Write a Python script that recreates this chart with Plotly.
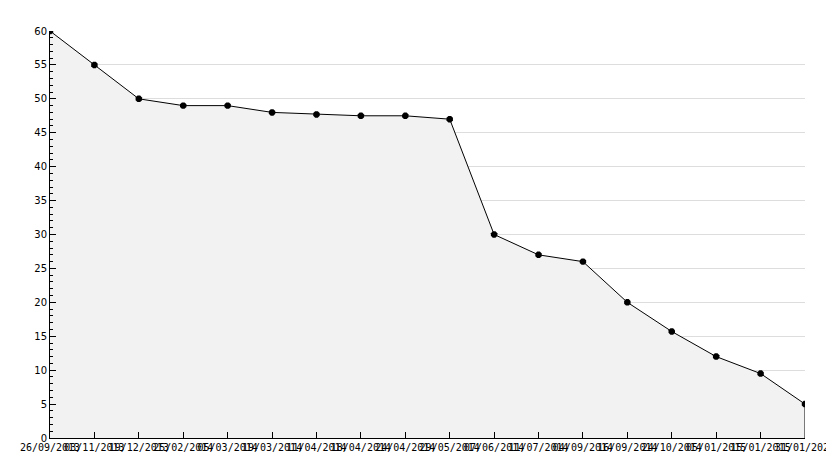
import plotly.graph_objects as go

DATES = [
    "26/09/2013", "03/11/2013", "19/12/2013", "25/02/2014", "05/03/2014",
    "19/03/2014", "11/04/2014", "18/04/2014", "24/04/2014", "29/05/2014",
    "07/06/2014", "11/07/2014", "04/09/2014", "16/09/2014", "24/10/2014",
    "05/01/2015", "15/01/2015", "31/01/2025",
]
VALUES = [60, 55, 50, 49, 49, 48, 47.7, 47.5, 47.5, 47, 30, 27, 26, 20, 15.7, 12, 9.5, 5]

FONT = dict(family="DejaVu Sans", size=10, color="#000000")

fig = go.Figure()

# Filled area with line and markers
fig.add_trace(
    go.Scatter(
        x=DATES,
        y=VALUES,
        mode="lines+markers",
        fill="tozeroy",
        fillcolor="#f2f2f2",
        line=dict(color="#000000", width=1),
        marker=dict(symbol="octagon", size=7, color="#000000"),
        showlegend=False,
    )
)

# Right edge outline of the area
fig.add_trace(
    go.Scatter(
        x=[DATES[-1], DATES[-1]],
        y=[0, VALUES[-1]],
        mode="lines",
        line=dict(color="#000000", width=1),
        showlegend=False,
        hoverinfo="skip",
    )
)

# page body has an 8px margin, so the figure is a little smaller than the window
fig.update_layout(
    width=826,
    height=460,
    margin=dict(l=42, r=29, t=23, b=30),
    paper_bgcolor="#ffffff",
    plot_bgcolor="#ffffff",
    font=FONT,
    xaxis=dict(
        type="category",
        range=[0, len(DATES) - 1],
        automargin=False,
        showgrid=False,
        showline=True,
        linecolor="#000000",
        linewidth=1,
        ticks="inside",
        ticklen=6,
        tickcolor="#000000",
        tickangle=0,
        tickfont=dict(family="DejaVu Sans Mono", size=10, color="#000000"),
        zeroline=False,
    ),
    yaxis=dict(
        range=[0, 60],
        dtick=5,
        automargin=False,
        showgrid=True,
        gridcolor="#dddddd",
        gridwidth=1,
        showline=True,
        linecolor="#000000",
        linewidth=1,
        ticks="inside",
        ticklen=6,
        tickcolor="#000000",
        zeroline=False,
        minor=dict(dtick=1, ticks="inside", ticklen=3, tickcolor="#000000", showgrid=False),
    ),
)

fig.write_html("out.html")
